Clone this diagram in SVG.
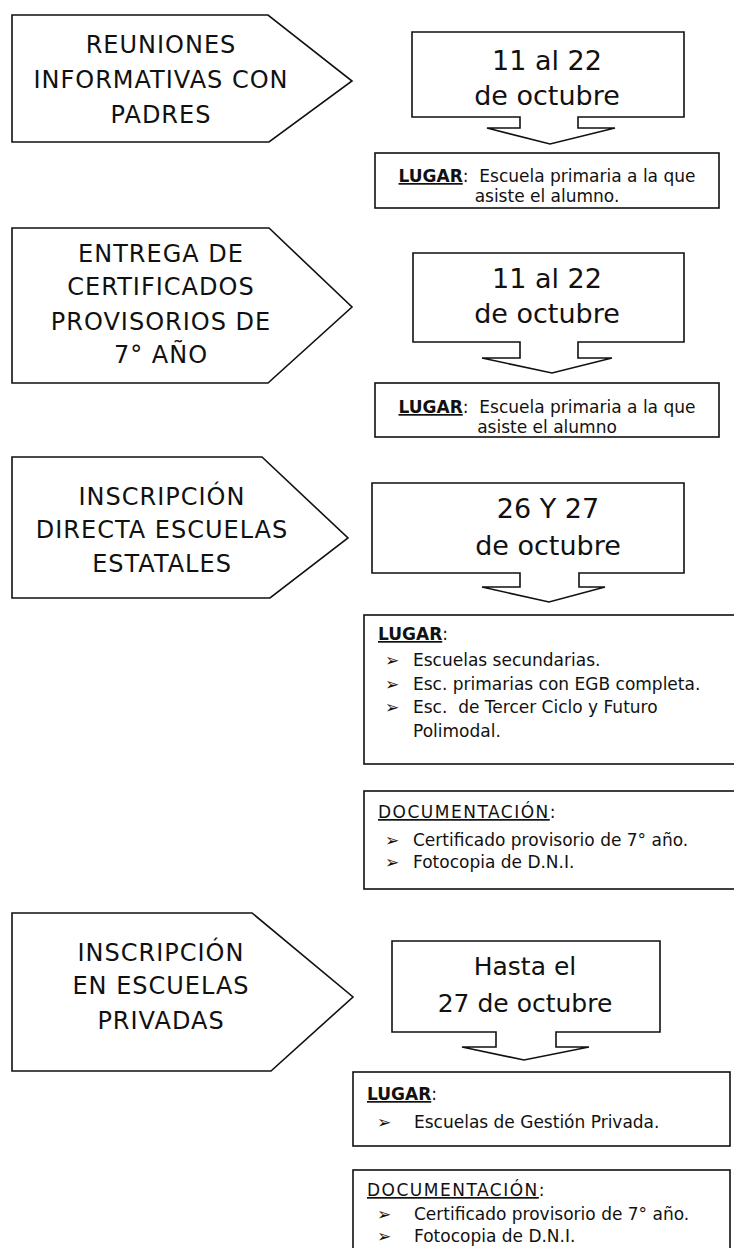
<svg xmlns="http://www.w3.org/2000/svg" width="734" height="1248" viewBox="0 0 734 1248">
<style>
.sh{fill:#fff;stroke:#111;stroke-width:1.6;stroke-linejoin:miter}
.pt{font-family:"DejaVu Sans",sans-serif;font-size:24px;letter-spacing:1px;text-anchor:middle;fill:#111}
.dt{font-family:"DejaVu Sans",sans-serif;font-size:27px;text-anchor:middle;fill:#111}
.tx{font-family:"DejaVu Sans",sans-serif;font-size:17px;fill:#111;white-space:pre}
.mid{text-anchor:middle}
.hd{text-decoration:underline}
.b{font-weight:bold}
.ls{letter-spacing:1.5px}
</style>
<rect width="734" height="1248" fill="#fff"/>

<g id="step1">
<path class="sh" d="M12,15 H268 L352,81 L269,142 H12 Z"/>
<text class="pt" x="161" y="53">REUNIONES</text>
<text class="pt" x="161" y="88">INFORMATIVAS CON</text>
<text class="pt" x="161" y="123">PADRES</text>
</g>
<g id="date1">
<path class="sh" d="M412,32 H684 V117 H578 V128 H615 L550,144 L487,128 H520 V117 H412 Z"/>
<text class="dt" x="547" y="70">11 al 22</text>
<text class="dt" x="547" y="105">de octubre</text>
</g>
<g id="lugar1">
<rect class="sh" x="375" y="153" width="344" height="55"/>
<text class="tx mid" x="547" y="182"><tspan class="hd b">LUGAR</tspan>:  Escuela primaria a la que</text>
<text class="tx mid" x="547" y="202">asiste el alumno.</text>
</g>

<g id="step2">
<path class="sh" d="M12,228 H269 L352,307 L268,383 H12 Z"/>
<text class="pt" x="161" y="262">ENTREGA DE</text>
<text class="pt" x="161" y="295">CERTIFICADOS</text>
<text class="pt" x="161" y="330">PROVISORIOS DE</text>
<text class="pt" x="161" y="363">7° AÑO</text>
</g>
<g id="date2">
<path class="sh" d="M413,253 H684 V342 H578 V358 H612 L552,373 L482,358 H520 V342 H413 Z"/>
<text class="dt" x="547" y="288">11 al 22</text>
<text class="dt" x="547" y="323">de octubre</text>
</g>
<g id="lugar2">
<rect class="sh" x="375" y="383" width="344" height="54"/>
<text class="tx mid" x="547" y="413"><tspan class="hd b">LUGAR</tspan>:  Escuela primaria a la que</text>
<text class="tx mid" x="547" y="433">asiste el alumno</text>
</g>

<g id="step3">
<path class="sh" d="M12,457 H262 L348,538 L270,598 H12 Z"/>
<text class="pt" x="162" y="505">INSCRIPCIÓN</text>
<text class="pt" x="162" y="538">DIRECTA ESCUELAS</text>
<text class="pt" x="162" y="572">ESTATALES</text>
</g>
<g id="date3">
<path class="sh" d="M372,483 H684 V573 H579 V587 H605 L549,602 L482,587 H520 V573 H372 Z"/>
<text class="dt" x="548" y="518">26 Y 27</text>
<text class="dt" x="548" y="555">de octubre</text>
</g>
<g id="lugar3">
<rect class="sh" x="364" y="615" width="380" height="149"/>
<text class="tx" x="378" y="640"><tspan class="hd b">LUGAR</tspan>:</text>
<text class="tx" x="385" y="666">➢</text><text class="tx" x="413" y="666">Escuelas secundarias.</text>
<text class="tx" x="385" y="690">➢</text><text class="tx" x="413" y="690">Esc. primarias con EGB completa.</text>
<text class="tx" x="385" y="713">➢</text><text class="tx" x="413" y="713">Esc.  de Tercer Ciclo y Futuro</text>
<text class="tx" x="413" y="737">Polimodal.</text>
</g>
<g id="doc3">
<rect class="sh" x="364" y="791" width="380" height="98"/>
<text class="tx" x="378" y="818"><tspan class="hd ls">DOCUMENTACIÓN</tspan>:</text>
<text class="tx" x="385" y="846">➢</text><text class="tx" x="413" y="846">Certificado provisorio de 7° año.</text>
<text class="tx" x="385" y="868">➢</text><text class="tx" x="413" y="868">Fotocopia de D.N.I.</text>
</g>

<g id="step4">
<path class="sh" d="M12,913 H252 L353,997 L271,1071 H12 Z"/>
<text class="pt" x="161" y="961">INSCRIPCIÓN</text>
<text class="pt" x="161" y="994">EN ESCUELAS</text>
<text class="pt" x="161" y="1029">PRIVADAS</text>
</g>
<g id="date4">
<path class="sh" d="M392,941 H660 V1032 H556 V1047 H589 L524,1060 L462,1047 H496 V1032 H392 Z"/>
<text class="dt" x="525" y="975" style="font-size:25px">Hasta el</text>
<text class="dt" x="525" y="1012" style="font-size:25px">27 de octubre</text>
</g>
<g id="lugar4">
<rect class="sh" x="353" y="1072" width="377" height="74"/>
<text class="tx" x="367" y="1100"><tspan class="hd b">LUGAR</tspan>:</text>
<text class="tx" x="377" y="1128">➢</text><text class="tx" x="414" y="1128">Escuelas de Gestión Privada.</text>
</g>
<g id="doc4">
<rect class="sh" x="353" y="1170" width="377" height="100"/>
<text class="tx" x="367" y="1196"><tspan class="hd ls">DOCUMENTACIÓN</tspan>:</text>
<text class="tx" x="377" y="1220">➢</text><text class="tx" x="414" y="1220">Certificado provisorio de 7° año.</text>
<text class="tx" x="377" y="1242">➢</text><text class="tx" x="414" y="1242">Fotocopia de D.N.I.</text>
</g>
<g id="connectors"></g>
</svg>
